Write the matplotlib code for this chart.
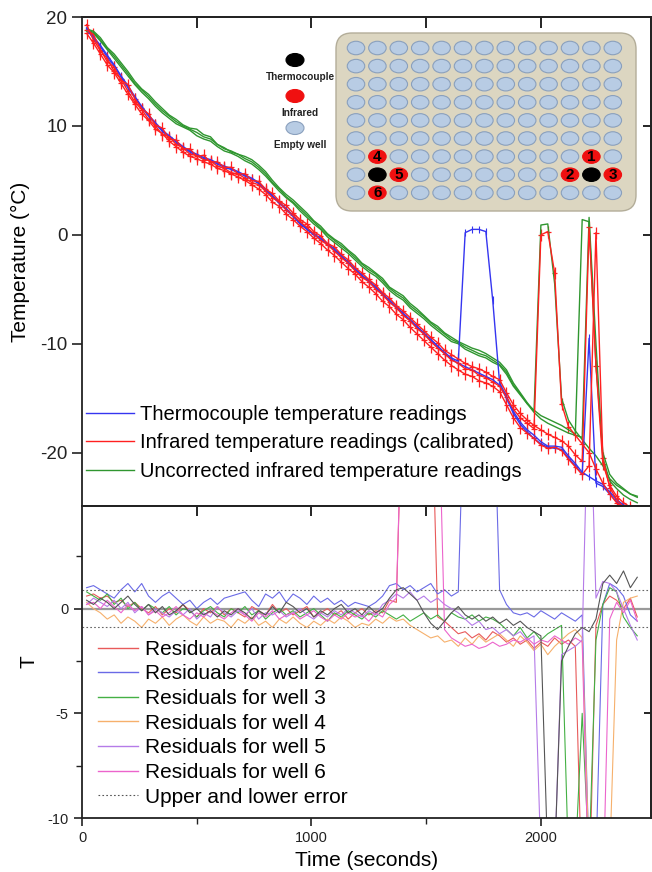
"""Thermocouple vs infrared well temperatures, with residuals per well."""

import matplotlib
matplotlib.use("Agg")
import matplotlib.pyplot as plt
from matplotlib.lines import Line2D
from matplotlib.patches import Ellipse, FancyBboxPatch

plt.rcParams["font.family"] = ["Liberation Sans", "DejaVu Sans"]
plt.rcParams["axes.unicode_minus"] = False

# sample times (s), one reading every 30 s
time_s = list(range(20, 2421, 30))

# thermocouple readings (deg C)
tc_left = [
    19.0, 18.2, 17.4, 16.5, 15.6, 14.6, 13.7, 12.7, 11.8, 11.0,
    10.3, 9.6, 9.1, 8.6, 8.1, 7.7, 7.4, 7.1, 6.9, 6.6,
    6.3, 6.1, 5.8, 5.5, 5.2, 4.8, 4.2, 3.6, 3.0, 2.4,
    1.8, 1.1, 0.6, 0.1, -0.3, -0.8, -1.3, -1.9, -2.5, -3.1,
    -3.7, -4.2, -4.8, -5.4, -6.0, -6.6, -7.2, -7.8, -8.4, -9.0,
    -9.6, -10.2, -10.8, -11.3, -11.6, 0.2, 0.5, 0.5, 0.3, -6.0,
    -13.6, -14.8, -16.2, -17.2, -17.9, -18.4, -19.0, -19.4, -19.4, -19.5,
    -20.3, -21.0, -21.8, -22.2, -22.6, -22.9, -23.6, -24.3, -24.8, -25.2, -25.5,
]
tc_right = [
    18.9, 18.0, 17.3, 16.3, 15.5, 14.5, 13.5, 12.6, 11.7, 10.9,
    10.2, 9.5, 9.0, 8.5, 8.0, 7.6, 7.3, 7.0, 6.8, 6.5,
    6.2, 6.0, 5.7, 5.4, 5.1, 4.7, 4.1, 3.5, 2.9, 2.3,
    1.7, 1.0, 0.5, 0.0, -0.4, -0.9, -1.4, -2.0, -2.6, -3.2,
    -3.8, -4.3, -4.9, -5.5, -6.1, -6.7, -7.3, -7.9, -8.5, -9.1,
    -9.7, -10.3, -10.9, -11.4, -11.8, -12.1, -12.4, -12.7, -13.0, -13.3,
    -13.8, -15.0, -16.4, -17.4, -18.1, -18.7, -19.2, -19.5, -19.6, -19.7,
    -20.5, -21.2, -22.0, -9.5, -22.8, -23.1, -23.8, -24.5, -25.0, -25.4, -25.7,
]

# calibrated infrared readings (deg C)
ir_a = [
    19.3, 17.9, 16.9, 16.2, 15.0, 14.3, 13.2, 12.2, 11.5, 10.6,
    10.0, 9.2, 9.0, 8.3, 8.0, 7.4, 7.3, 6.9, 6.8, 6.3,
    6.1, 5.7, 5.6, 5.2, 4.8, 4.6, 4.0, 3.4, 3.0, 2.3,
    1.8, 1.2, 0.7, 0.1, -0.5, -0.9, -1.5, -2.1, -2.6, -3.3,
    -3.9, -4.3, -5.0, -5.5, -6.2, -6.7, -7.4, -7.9, -8.6, -9.1,
    -9.8, -10.4, -10.9, -11.5, -11.8, -12.3, -12.4, -12.9, -13.1, -13.5,
    -13.9, -14.9, -16.0, -16.8, -17.3, -17.8, 0.0, 0.3, -3.5, -15.5,
    -17.6, -18.4, -19.2, -20.0, -21.5, -22.8, -23.8, -24.6, -25.1, -25.4, -25.6,
]
ir_b = [
    18.8, 18.4, 17.0, 15.9, 15.4, 14.2, 13.8, 12.5, 11.6, 11.1,
    10.1, 9.8, 8.8, 8.7, 7.9, 7.9, 7.2, 7.3, 6.7, 6.7,
    6.2, 6.2, 5.6, 5.6, 5.0, 4.9, 4.2, 3.8, 3.1, 2.7,
    2.0, 1.4, 1.0, 0.3, -0.1, -0.8, -1.1, -1.8, -2.3, -3.0,
    -3.5, -4.1, -4.6, -5.3, -5.8, -6.5, -7.0, -7.6, -8.2, -8.8,
    -9.4, -9.9, -10.6, -11.0, -11.4, -11.8, -12.1, -12.3, -12.6, -13.0,
    -13.3, -14.5, -15.6, -16.4, -17.0, -17.5, -17.9, -18.3, -18.6, -18.9,
    -19.4, -20.2, -20.8, 0.7, -12.0, -21.0, -23.0, -24.0, -24.6, -25.0, -25.4,
]
ir_c = [
    18.5, 17.6, 16.6, 15.6, 14.9, 13.9, 12.9, 12.0, 11.1, 10.5,
    9.7, 9.3, 8.6, 8.1, 7.6, 7.2, 7.0, 6.7, 6.5, 6.1,
    5.9, 5.6, 5.3, 5.0, 4.6, 4.2, 3.7, 3.0, 2.6, 1.9,
    1.4, 0.8, 0.3, -0.3, -0.8, -1.4, -1.9, -2.5, -3.1, -3.6,
    -4.3, -4.8, -5.4, -6.1, -6.6, -7.3, -7.8, -8.5, -9.1, -9.7,
    -10.3, -10.9, -11.5, -12.0, -12.4, -12.8, -13.0, -13.4, -13.6, -13.9,
    -14.4, -15.6, -16.8, -17.7, -18.2, -18.7, -19.3, -19.6, -19.5, -19.8,
    -20.6, -21.3, -22.0, -21.2, 0.2, -20.5, -23.2, -24.3, -25.0, -25.3, -25.6,
]

# uncorrected infrared readings (deg C)
raw_a = [
    18.9, 18.7, 18.1, 17.2, 16.6, 15.8, 15.0, 14.1, 13.4, 12.9,
    12.2, 11.6, 11.0, 10.6, 10.1, 9.8, 9.7, 9.2, 9.0, 8.3,
    7.9, 7.7, 7.4, 7.2, 6.9, 6.4, 5.8, 5.0, 4.3, 3.7,
    3.2, 2.6, 2.0, 1.3, 0.8, 0.1, -0.4, -0.8, -1.4, -1.9,
    -2.6, -3.0, -3.5, -4.0, -4.8, -5.2, -5.6, -6.3, -6.8, -7.4,
    -8.0, -8.4, -9.0, -9.4, -9.8, -10.1, -10.4, -10.6, -10.9, -11.3,
    -11.7, -12.4, -13.6, -14.5, -15.4, -16.2, 0.9, 1.0, -4.5, -15.0,
    -17.0, -18.0, -18.8, -19.6, -20.3, -21.2, -22.4, -23.0, -23.4, -23.8, -24.0,
]
raw_b = [
    18.7, 18.5, 17.8, 17.0, 16.2, 15.4, 14.6, 13.8, 13.1, 12.5,
    11.8, 11.2, 10.7, 10.2, 9.9, 9.6, 9.1, 8.8, 8.6, 8.1,
    7.7, 7.5, 7.2, 6.8, 6.5, 6.0, 5.4, 4.7, 4.0, 3.4,
    2.9, 2.2, 1.6, 1.0, 0.5, -0.2, -0.7, -1.2, -1.7, -2.3,
    -2.9, -3.4, -3.8, -4.4, -5.1, -5.6, -6.0, -6.7, -7.2, -7.7,
    -8.3, -8.8, -9.3, -9.8, -10.0, -10.5, -10.8, -11.1, -11.3, -11.7,
    -12.0, -12.8, -13.9, -14.7, -15.5, -16.1, -16.6, -16.9, -17.2, -17.5,
    -17.9, -18.3, 1.4, 1.2, -12.0, -20.0, -22.0, -22.8, -23.3, -23.8, -24.1,
]
raw_c = [
    18.8, 18.6, 17.9, 17.1, 16.4, 15.6, 14.8, 13.9, 13.3, 12.7,
    12.0, 11.4, 10.9, 10.4, 10.0, 9.7, 9.4, 9.0, 8.8, 8.3,
    8.0, 7.6, 7.4, 7.0, 6.7, 6.2, 5.6, 4.8, 4.2, 3.5,
    3.0, 2.4, 1.8, 1.2, 0.6, 0.0, -0.5, -1.0, -1.5, -2.1,
    -2.7, -3.2, -3.6, -4.2, -4.9, -5.4, -5.8, -6.5, -7.0, -7.5,
    -8.1, -8.6, -9.1, -9.6, -9.9, -10.3, -10.6, -10.9, -11.1, -11.5,
    -11.9, -12.6, -13.8, -14.6, -15.5, -16.3, -16.9, -17.3, -17.6, -17.9,
    -18.2, -18.4, -18.6, 1.6, -10.0, -20.5, -22.6, -23.3, -23.9, -24.3, -24.6,
]

# residuals per well (deg C)
res_well1 = [
    0.6, 0.7, 0.5, 0.6, 0.3, 0.4, 0.1, 0.3, 0.0, -0.2,
    0.1, -0.3, 0.0, -0.2, 0.2, -0.1, -0.4, 0.0, -0.2, 0.1,
    -0.3, 0.0, -0.2, -0.4, 0.1, -0.1, -0.3, 0.2, -0.2, 0.0,
    -0.3, -0.1, 0.1, -0.4, -0.2, 0.0, -0.3, -0.1, -0.5, -0.2,
    0.0, -0.3, -0.1, -0.2, 0.4, 0.3, 12, 12, 12, 12,
    12, -0.4, -0.6, -0.9, -1.2, -1.1, -1.4, -1.2, -1.5, -1.1,
    -1.3, -1.6, -1.4, -1.7, -1.5, -1.9, -1.6, -1.8, -1.4, -1.7,
    -1.5, -1.8, -14, -14, -0.8, 0.2, 0.6, 0.4, 0.0, 0.5, -0.4,
]
res_well2 = [
    1.0, 1.1, 0.9, 0.7, 0.5, 0.9, 1.2, 0.8, 1.2, 0.6,
    0.3, 0.6, 0.8, 0.5, 0.2, 0.4, 0.0, 0.3, 0.5, 0.2,
    0.5, 0.6, 0.7, 0.8, 0.4, 0.1, 0.7, 0.5, 0.8, 0.3,
    0.7, 0.5, 0.2, 0.6, 0.3, 0.5, 0.2, 0.4, 0.1, 0.3,
    0.2, 0.1, 0.3, 0.6, 1.1, 1.2, 0.9, 1.1, 0.8, 1.0,
    1.2, 0.7, 0.9, 0.6, 0.8, 12, 12, 12, 12, 12,
    0.9, 0.2, -0.2, -0.3, -0.2, -0.4, -0.1, -0.3, -0.5, -0.2,
    -0.4, -0.6, -0.3, -12, -12, 0.2, 1.2, 1.0, 0.6, -0.3, -0.6,
]
res_well3 = [
    0.8, 0.6, 0.4, 0.7, 0.2, 0.5, 0.0, 0.3, -0.1, 0.2,
    0.0, -0.2, 0.1, -0.3, 0.0, -0.1, -0.4, -0.1, 0.1, -0.2,
    -0.4, 0.0, -0.2, 0.1, -0.3, -0.1, -0.5, -0.2, 0.0, -0.3,
    -0.1, -0.4, -0.2, 0.0, -0.3, -0.6, -0.2, -0.4, -0.1, -0.3,
    -0.5, -0.2, -0.4, -0.1, -0.3, -0.5, -0.3, -0.6, -0.4, -0.2,
    -0.5, -0.3, -0.6, -0.2, -0.4, -0.5, -0.3, -0.6, -0.4, -0.5,
    -0.7, -1.0, -1.3, -0.9, -1.4, -1.1, -1.5, -1.2, -1.0, -0.8,
    -12, -12, -5.0, -12, -1.5, 0.2, 1.0, 0.8, -0.4, -0.9, -1.3,
]
res_well4 = [
    0.3, 0.0, -0.2, -0.5, -0.3, -0.7, -0.4, -0.6, -0.9, -0.5,
    -0.7, -0.4, -0.8, -0.5, -0.3, -0.6, -0.8, -0.4, -0.7, -0.5,
    -0.6, -0.9, -0.5, -0.7, -0.4, -0.8, -0.6, -0.9, -0.5, -0.7,
    -0.4, -0.7, -0.9, -0.6, -0.8, -0.5, -0.7, -0.4, -0.6, -0.9,
    -0.7, -0.8, -0.5, -0.7, -0.4, -0.6, -0.5, -0.8, -1.0, -1.2,
    -1.4, -1.3, -1.6, -1.5, -1.8, -1.4, -1.7, -1.3, -1.6, -1.4,
    -1.2, -1.5, -1.8, -1.3, -1.6, -2.0, -1.7, -2.2, -1.8, -1.5,
    -1.2, -1.0, -1.4, -12, -12, -12, -12, -1.5, 0.3, 0.5, 0.6,
]
res_well5 = [
    0.2, 0.5, 0.3, 0.1, 0.4, 0.0, 0.3, -0.2, 0.1, -0.3,
    0.0, -0.2, -0.4, -0.1, -0.3, 0.0, -0.5, -0.2, -0.4, 0.1,
    -0.2, -0.4, -0.1, -0.3, 0.0, -0.5, -0.2, -0.3, -0.1, -0.4,
    -0.2, 0.0, -0.3, -0.5, -0.2, -0.4, -0.1, -0.3, 0.0, -0.2,
    -0.4, -0.1, -0.3, 0.2, 0.4, 0.7, 0.5, 0.8, 0.4, 0.6,
    0.3, 0.5, 0.2, 0.0, -0.2, -0.5, -0.8, -0.6, -1.0, -0.9,
    -1.2, -1.0, -1.3, -1.1, -1.5, -1.3, -12, -12, -12, -2.2,
    -2.0, -1.8, -1.5, 12, 0.5, 1.3, 1.2, 0.8, 0.0, -0.8, -1.5,
]
res_well6 = [
    0.2, 0.3, 0.0, 0.4, 0.1, -0.2, 0.2, -0.1, 0.1, -0.3,
    -0.1, -0.4, -0.2, 0.1, -0.3, -0.5, -0.2, -0.4, -0.1, -0.3,
    -0.5, -0.2, 0.0, -0.3, -0.6, -0.2, -0.4, -0.1, -0.5, -0.3,
    -0.2, -0.5, -0.3, -0.1, -0.4, -0.6, -0.3, -0.5, -0.2, -0.4,
    -0.3, -0.6, -0.2, -0.4, 0.2, 0.5, 12, 12, 12, 12,
    12, 12, -1.0, -1.4, -1.6, -1.8, -1.7, -1.9, -1.8, -1.6,
    -1.8, -1.7, -1.5, -1.6, -1.4, -1.7, -1.5, -1.6, -1.3, -1.5,
    -1.7, -1.4, -1.6, -14, -14, -14, -0.5, 0.3, -0.2, 0.4, -0.6,
]
res_extra = [
    0.4, 0.2, 0.5, 0.3, 0.0, 0.3, 0.6, 0.2, -0.1, 0.2,
    -0.2, 0.1, -0.3, -0.1, 0.2, -0.2, 0.0, -0.3, -0.1, -0.4,
    -0.1, -0.3, 0.0, -0.2, -0.5, -0.1, -0.3, 0.1, -0.2, 0.3,
    0.1, -0.2, 0.0, -0.4, -0.1, -0.3, 0.0, 0.2, -0.2, 0.0,
    -0.3, 0.1, -0.2, 0.0, 0.5, 0.9, 1.0, 0.7, 0.4, -0.2,
    -0.7, -1.0, -0.6, -0.2, 0.1, -0.3, -0.5, -0.3, -0.6, -0.4,
    -0.7, -0.5, -0.8, -0.6, -0.9, -1.1, -1.3, -12, -12, -2.5,
    -1.8, -1.2, -0.9, -1.1, -0.5, 1.2, 1.6, 1.2, 1.8, 1.0, 1.5,
]
error_band = 0.9

BLUE = "#3535f0"
RED = "#ff2020"
GREEN = "#2f962f"
SPINE = "#222222"
ERR_STYLE = (0, (1.5, 2))

well_styles = [
    ("Residuals for well 1", res_well1, "#e85a5a"),
    ("Residuals for well 2", res_well2, "#6a6ae6"),
    ("Residuals for well 3", res_well3, "#44b044"),
    ("Residuals for well 4", res_well4, "#f6b06c"),
    ("Residuals for well 5", res_well5, "#b57be8"),
    ("Residuals for well 6", res_well6, "#ec64cc"),
]


def style_spines(ax):
    for spine in ax.spines.values():
        spine.set_color(SPINE)
        spine.set_linewidth(1.3)


fig = plt.figure(figsize=(6.52, 8.72), dpi=100)
ax_top = fig.add_axes([0.1258, 0.4197, 0.8727, 0.5608])
ax_bot = fig.add_axes([0.1258, 0.0619, 0.8727, 0.3578])

# --- temperature panel ---
for tc in (tc_left, tc_right):
    ax_top.errorbar(time_s, tc, yerr=0.35, color=BLUE, lw=1.0,
                    elinewidth=0.8, capsize=0)
for ir in (ir_a, ir_b, ir_c):
    ax_top.errorbar(time_s, ir, xerr=12, yerr=0.55, color=RED, lw=1.0,
                    elinewidth=0.9, capsize=0)
for raw in (raw_a, raw_b, raw_c):
    ax_top.plot(time_s, raw, color=GREEN, lw=1.0)

ax_top.set_xlim(0, 2480)
ax_top.set_ylim(-24.9, 20)
ax_top.set_yticks([-20, -10, 0, 10, 20])
ax_top.tick_params(axis="y", direction="out", length=7, width=1.2,
                   labelsize=13.5, colors=SPINE)
ax_top.tick_params(axis="x", bottom=False, labelbottom=False)
top_x = ax_top.secondary_xaxis("top")
top_x.set_xticks([500, 1000, 1500, 2000])
top_x.tick_params(direction="in", length=8, width=1.2, labeltop=False)
top_r = ax_top.secondary_yaxis("right")
top_r.set_yticks([-20, -10, 0, 10])
top_r.tick_params(direction="in", length=6, width=1.2, labelright=False)
for a in (ax_top, top_x, top_r):
    style_spines(a)
ax_top.set_ylabel("Temperature (°C)", fontsize=15)
ax_top.yaxis.set_label_coords(-0.092, 0.5)

top_handles = [
    Line2D([], [], color=BLUE, lw=1.0),
    Line2D([], [], color=RED, lw=1.0),
    Line2D([], [], color=GREEN, lw=1.0),
]
top_labels = [
    "Thermocouple temperature readings",
    "Infrared temperature readings (calibrated)",
    "Uncorrected infrared temperature readings",
]
ax_top.legend(top_handles, top_labels, loc="upper left",
              bbox_to_anchor=(0.007, 0.207), frameon=False, fontsize=14.5,
              borderpad=0, borderaxespad=0, handlelength=2.4,
              handletextpad=0.3, labelspacing=0.47)

# --- residual panel ---
bot_handles = []
bot_labels = []
for label, res, color in well_styles:
    ax_bot.plot(time_s, res, color=color, lw=0.8)
    bot_handles.append(Line2D([], [], color=color, lw=1.0))
    bot_labels.append(label)
ax_bot.plot(time_s, res_extra, color="#555555", lw=0.8)
ax_bot.axhline(0, color="#9a9a9a", lw=1.6, zorder=1)
ax_bot.axhline(error_band, color="#666666", lw=0.8, ls=ERR_STYLE)
ax_bot.axhline(-error_band, color="#666666", lw=0.8, ls=ERR_STYLE)
bot_handles.append(Line2D([], [], color="#555555", lw=0.8, ls=ERR_STYLE))
bot_labels.append("Upper and lower error")

ax_bot.set_xlim(0, 2480)
ax_bot.set_ylim(-10, 4.9)
ax_bot.set_yticks([-10, -5, 0])
ax_bot.set_yticks([-7.5, -2.5, 2.5], minor=True)
ax_bot.set_xticks([0, 1000, 2000])
ax_bot.set_xticks([500, 1500], minor=True)
ax_bot.tick_params(which="major", direction="out", length=6, width=1.2,
                   labelsize=10.5, colors=SPINE)
ax_bot.tick_params(which="minor", direction="out", length=4, width=1.0,
                   colors=SPINE)
bot_x = ax_bot.secondary_xaxis("top")
bot_x.set_xticks([500, 1000, 1500, 2000])
bot_x.tick_params(direction="in", length=7, width=1.2, labeltop=False)
bot_r = ax_bot.secondary_yaxis("right")
bot_r.set_yticks([-5, 0])
bot_r.tick_params(direction="in", length=5, width=1.2, labelright=False)
for a in (ax_bot, bot_x, bot_r):
    style_spines(a)
ax_bot.set_ylabel("T", fontsize=15)
ax_bot.yaxis.set_label_coords(-0.077, 0.5)
ax_bot.set_xlabel("Time (seconds)", fontsize=15, labelpad=4)
ax_bot.legend(bot_handles, bot_labels, loc="upper left",
              bbox_to_anchor=(0.028, 0.571), frameon=False, fontsize=15,
              borderpad=0, borderaxespad=0, handlelength=1.9,
              handletextpad=0.35, labelspacing=0.27)

# --- well plate sketch (pixel coordinates) ---
deco = fig.add_axes([0, 0, 1, 1], zorder=5)
deco.set_xlim(0, 652)
deco.set_ylim(872, 0)
deco.axis("off")
deco.patch.set_alpha(0)

plate = FancyBboxPatch((336, 33), 300, 178,
                       boxstyle="round,pad=0,rounding_size=16",
                       facecolor="#dcd6c1", edgecolor="#b3ad99", lw=1.0)
deco.add_patch(plate)

n_cols, n_rows = 13, 9
col0, col_step = 356, 21.4
row0, row_step = 48, 18.1
marked = {
    (6, 1): ("#f01010", "4"), (7, 1): ("#000000", ""), (7, 2): ("#f01010", "5"),
    (8, 1): ("#f01010", "6"), (6, 11): ("#f01010", "1"), (7, 10): ("#f01010", "2"),
    (7, 11): ("#000000", ""), (7, 12): ("#f01010", "3"),
}
for r in range(n_rows):
    for c in range(n_cols):
        cx = col0 + c * col_step
        cy = row0 + r * row_step
        face, num = marked.get((r, c), ("#b8cce4", ""))
        edge = "#8aa0bd" if face == "#b8cce4" else face
        deco.add_patch(Ellipse((cx, cy), 17.5, 13.5, facecolor=face,
                               edgecolor=edge, lw=0.8))
        if num:
            deco.text(cx, cy + 0.5, num, ha="center", va="center",
                      fontsize=11, fontweight="bold", color="black")

key_items = [("#000000", "Thermocouple", 60), ("#f01010", "Infrared", 96),
             ("#b8cce4", "Empty well", 128)]
for face, text, ky in key_items:
    edge = "#8aa0bd" if face == "#b8cce4" else face
    deco.add_patch(Ellipse((295, ky), 18, 13, facecolor=face,
                           edgecolor=edge, lw=0.8))
    deco.text(300, ky + 17, text, ha="center", va="center", fontsize=7.2,
              fontweight="bold", color="#222222")

fig.savefig("out.png", dpi=100)
